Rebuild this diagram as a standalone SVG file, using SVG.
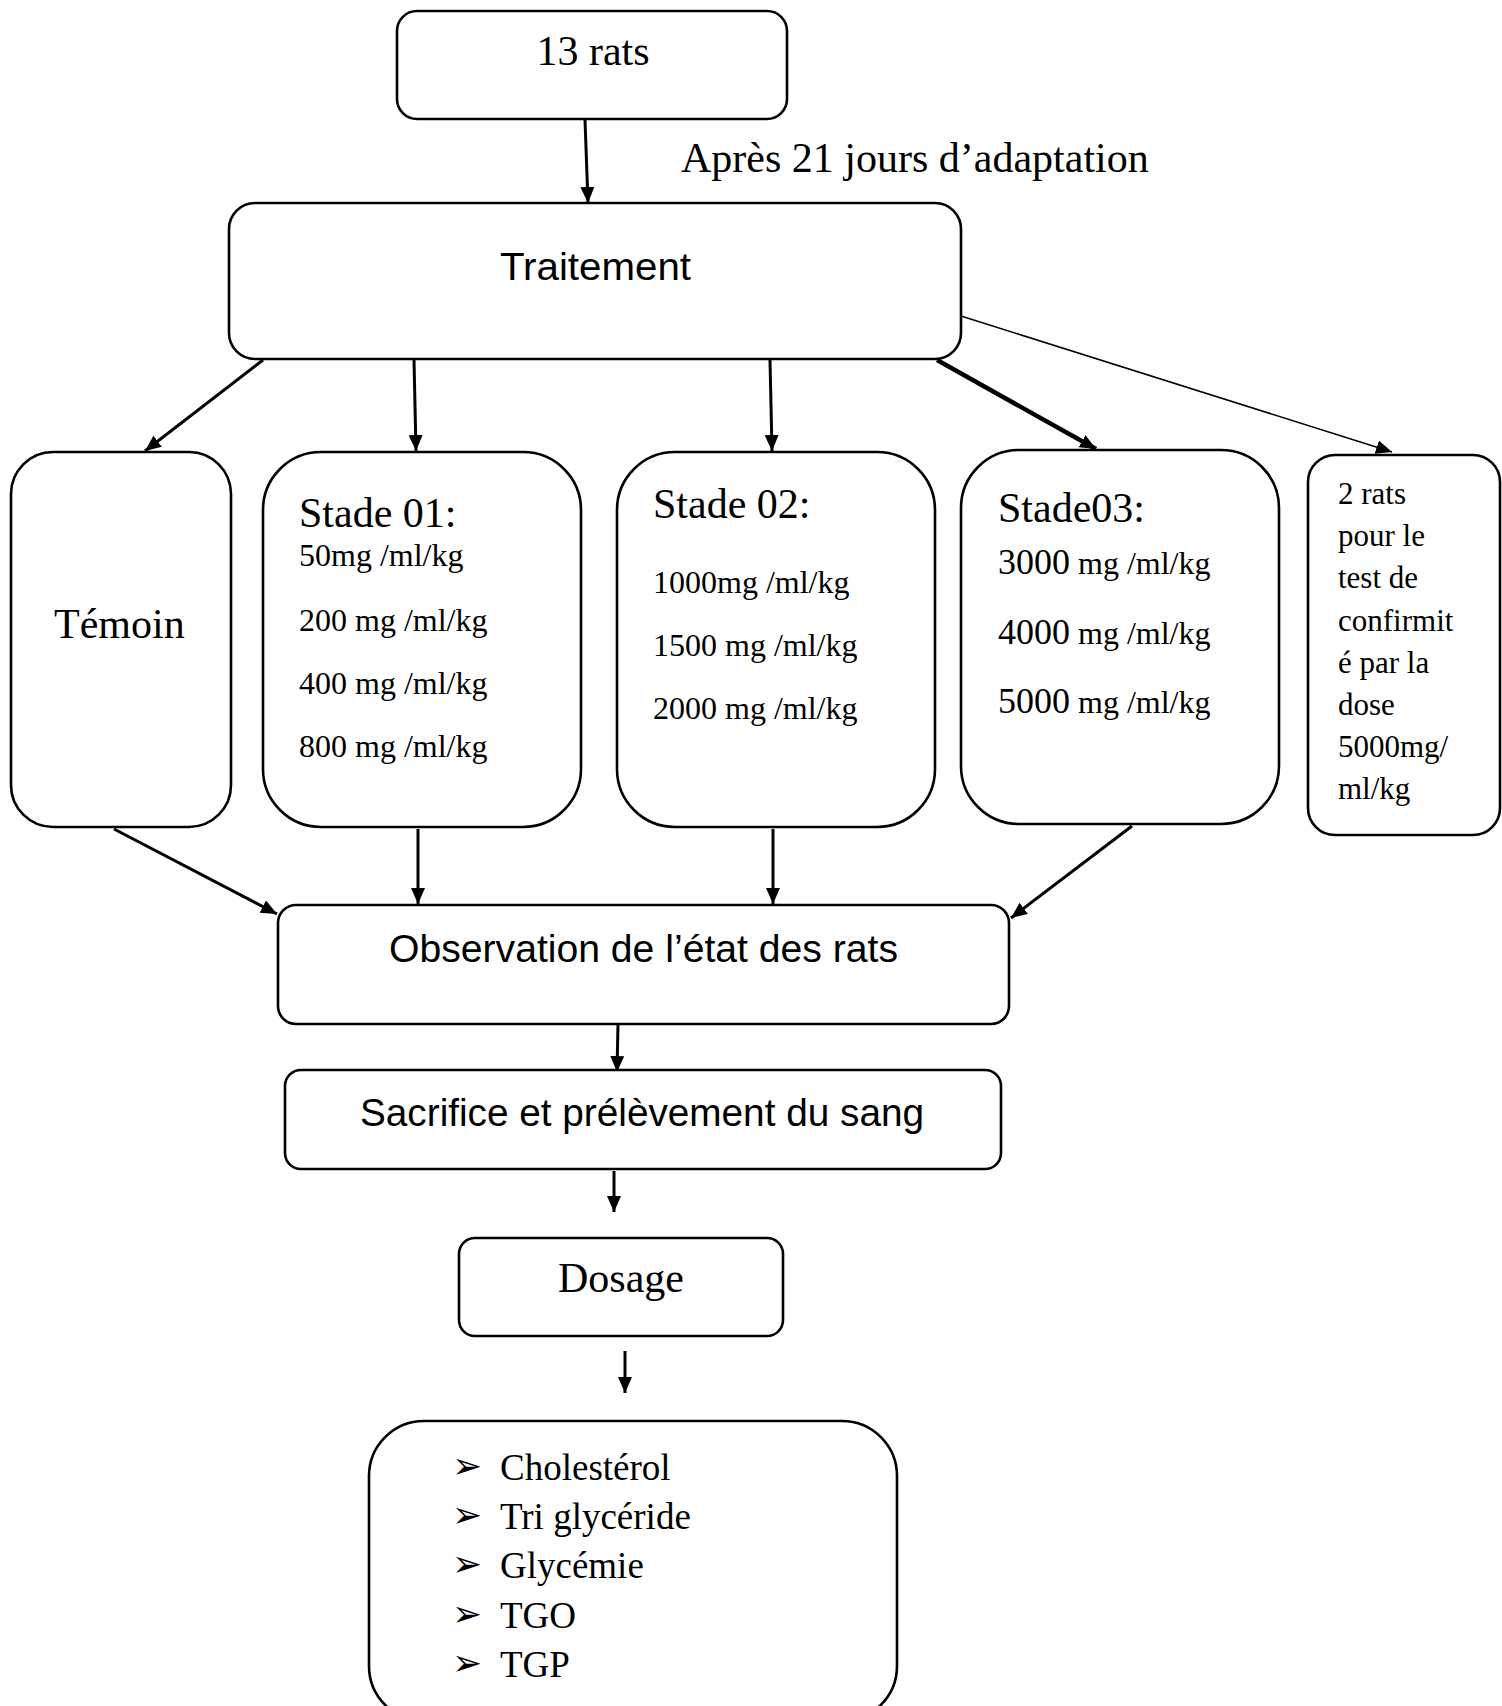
<svg xmlns="http://www.w3.org/2000/svg" width="1502" height="1706" viewBox="0 0 1502 1706">
<style>
.box{fill:#fff;stroke:#000;stroke-width:2.6}
.serif{font-family:"Liberation Serif","Times New Roman",serif;fill:#000}
.sans{font-family:"Liberation Sans",Arial,sans-serif;fill:#000}
.c{stroke:#000;stroke-width:3;fill:none;marker-end:url(#ah)}
</style>
<defs>
<marker id="ah" markerUnits="userSpaceOnUse" markerWidth="18" markerHeight="16" refX="16" refY="7" orient="auto">
<path d="M0,0 L16,7 L0,14 z" fill="#000"/>
</marker>
</defs>
<rect width="1502" height="1706" fill="#fff"/>
<g id="connectors">
<line class="c" x1="585" y1="120" x2="588" y2="203"/>
<line class="c" x1="263" y1="360" x2="145" y2="451"/>
<line class="c" x1="414" y1="360" x2="416" y2="451"/>
<line class="c" x1="770" y1="360" x2="772" y2="451"/>
<line class="c" style="stroke-width:4.5" x1="937" y1="360" x2="1096" y2="449"/>
<line class="c" style="stroke-width:1.5" x1="961" y1="316" x2="1392" y2="452"/>
<line class="c" x1="114" y1="829" x2="277" y2="914"/>
<line class="c" x1="418" y1="829" x2="418" y2="904"/>
<line class="c" x1="773" y1="829" x2="773" y2="904"/>
<line class="c" x1="1132" y1="826" x2="1011" y2="918"/>
<line class="c" x1="618" y1="1024" x2="617" y2="1072"/>
<line class="c" x1="614" y1="1171" x2="614" y2="1212"/>
<line class="c" x1="625" y1="1351" x2="625" y2="1393"/>
</g>
<g id="n-13rats">
<rect class="box" x="397" y="11" width="390" height="108" rx="20"/>
<text class="serif" x="593" y="65" font-size="42" text-anchor="middle">13 rats</text>
</g>
<g id="label-adaptation">
<text class="serif" x="681" y="172" font-size="42">Après 21 jours d’adaptation</text>
</g>
<g id="n-traitement">
<rect class="box" x="229" y="203" width="732" height="156" rx="26"/>
<text class="sans" x="500" y="280" font-size="38" textLength="191" lengthAdjust="spacingAndGlyphs">Traitement</text>
</g>
<g id="n-temoin">
<rect class="box" x="11" y="452" width="220" height="375" rx="42"/>
<text class="serif" x="54" y="638" font-size="42">Témoin</text>
</g>
<g id="n-stade01">
<rect class="box" x="263" y="452" width="318" height="375" rx="58"/>
<text class="serif" x="299" y="527" font-size="42">Stade 01:</text>
<text class="serif" x="299" y="566" font-size="32">50mg /ml/kg</text>
<text class="serif" x="299" y="631" font-size="32">200 mg /ml/kg</text>
<text class="serif" x="299" y="694" font-size="32">400 mg /ml/kg</text>
<text class="serif" x="299" y="757" font-size="32">800 mg /ml/kg</text>
</g>
<g id="n-stade02">
<rect class="box" x="617" y="452" width="318" height="375" rx="58"/>
<text class="serif" x="653" y="518" font-size="42">Stade 02:</text>
<text class="serif" x="653" y="593" font-size="32">1000mg /ml/kg</text>
<text class="serif" x="653" y="656" font-size="32">1500 mg /ml/kg</text>
<text class="serif" x="653" y="719" font-size="32">2000 mg /ml/kg</text>
</g>
<g id="n-stade03">
<rect class="box" x="961" y="450" width="318" height="374" rx="58"/>
<text class="serif" x="998" y="522" font-size="42">Stade03:</text>
<text class="serif" x="998" y="574" font-size="32"><tspan font-size="36">3000</tspan> mg /ml/kg</text>
<text class="serif" x="998" y="644" font-size="32"><tspan font-size="36">4000</tspan> mg /ml/kg</text>
<text class="serif" x="998" y="713" font-size="32"><tspan font-size="36">5000</tspan> mg /ml/kg</text>
</g>
<g id="n-2rats">
<rect class="box" x="1308" y="455" width="192" height="380" rx="27"/>
<text class="serif" x="1338" font-size="31">
<tspan x="1338" y="504">2 rats</tspan>
<tspan x="1338" y="546">pour le</tspan>
<tspan x="1338" y="588">test de</tspan>
<tspan x="1338" y="631">confirmit</tspan>
<tspan x="1338" y="673">é par la</tspan>
<tspan x="1338" y="715">dose</tspan>
<tspan x="1338" y="757">5000mg/</tspan>
<tspan x="1338" y="799">ml/kg</tspan>
</text>
</g>
<g id="n-observation">
<rect class="box" x="278" y="905" width="731" height="119" rx="18"/>
<text class="sans" x="389" y="962" font-size="38" textLength="509" lengthAdjust="spacingAndGlyphs">Observation de l’état des rats</text>
</g>
<g id="n-sacrifice">
<rect class="box" x="285" y="1070" width="716" height="99" rx="16"/>
<text class="sans" x="360" y="1126" font-size="38" textLength="564" lengthAdjust="spacingAndGlyphs">Sacrifice et prélèvement du sang</text>
</g>
<g id="n-dosage">
<rect class="box" x="459" y="1238" width="324" height="98" rx="16"/>
<text class="serif" x="621" y="1292" font-size="42" text-anchor="middle">Dosage</text>
</g>
<g id="n-parametres">
<rect class="box" x="369" y="1421" width="528" height="300" rx="55"/>
<g font-family="DejaVu Sans, sans-serif" font-size="36" fill="#000">
<text x="452" y="1478">➢</text>
<text x="452" y="1527">➢</text>
<text x="452" y="1576">➢</text>
<text x="452" y="1626">➢</text>
<text x="452" y="1675">➢</text>
</g>
<text class="serif" x="500" y="1480" font-size="37">Cholestérol</text>
<text class="serif" x="500" y="1529" font-size="37">Tri glycéride</text>
<text class="serif" x="500" y="1578" font-size="37">Glycémie</text>
<text class="serif" x="500" y="1628" font-size="37">TGO</text>
<text class="serif" x="500" y="1677" font-size="37">TGP</text>
</g>
</svg>
